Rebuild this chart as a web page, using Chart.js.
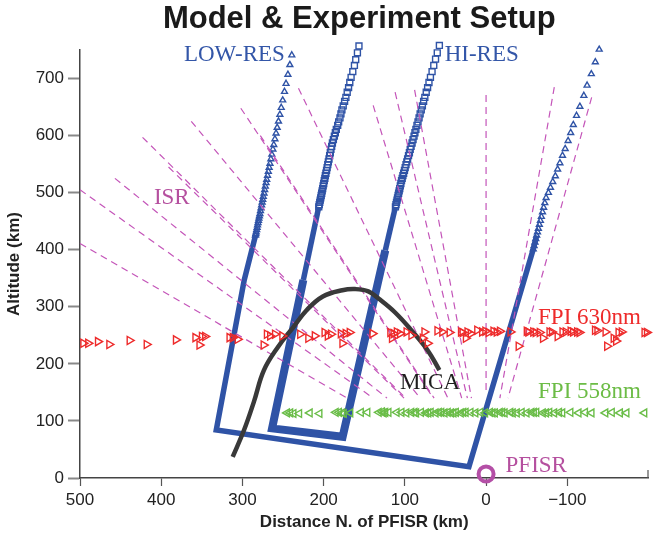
<!DOCTYPE html>
<html>
<head>
<meta charset="utf-8">
<script src="https://cdn.jsdelivr.net/npm/chart.js@4.4.1/dist/chart.umd.min.js"></script>
<style>
  html, body { margin: 0; padding: 0; background: #fff; }
</style>
</head>
<body>
<canvas id="myChart" width="660" height="540"></canvas>
<script>
// axis ticks
const xTicks = [500, 400, 300, 200, 100, 0, -100];
const yTicks = [0, 100, 200, 300, 400, 500, 600, 700];

// LOW-RES grid (triangles): outline of the dense part, then sparse markers
const lowEdgeX = [283.9, 297.8, 332.2, 21.1, -57.7, -62.3];
const lowEdgeAlt = [425, 347, 84, 19.8, 399, 425];
const lowLeftX = [236.5, 239.2, 241.6, 244.0, 246.3, 248.2, 250.4, 252.2, 253.9, 255.6,
  257.2, 258.6, 260.0, 261.4, 262.5, 263.8, 265.0, 266.1, 267.1, 268.1,
  269.1, 270.1, 270.9, 271.8, 272.6, 273.4, 274.3, 275.0, 275.7, 276.4,
  277.1, 277.8, 278.5, 279.1, 279.7, 280.2, 280.8, 281.4, 281.9, 282.5,
  283.1, 283.5, 283.9];
const lowLeftAlt = [760, 741, 724, 707, 691, 677, 662, 649, 637, 625,
  614, 604, 594, 584, 576, 567, 559, 551, 544, 537,
  530, 523, 517, 511, 505, 499, 493, 488, 483, 478,
  473, 468, 463, 459, 455, 451, 447, 443, 439, 435,
  431, 428, 425];
const lowRightX = [-139.3, -134.5, -129.6, -124.4, -120.4, -115.5, -111.4, -107.4, -104.2, -101.0,
  -97.4, -94.1, -90.9, -88.1, -85.3, -82.1, -79.3, -76.8, -73.9, -72.3,
  -70.9, -69.5, -68.1, -66.9, -65.6, -64.4, -63.3, -62.3, -61.2, -60.2,
  -59.1, -58.1];
const lowRightAlt = [751, 729, 708, 688, 670, 651, 635, 619, 605, 591,
  577, 565, 552, 541, 529, 519, 509, 500, 491, 482,
  474, 466, 458, 451, 444, 437, 431, 425, 419, 413,
  407, 401];

// HI-RES grid (squares)
const hiEdgeX = [225, 263.5, 176.6, 124.1];
const hiEdgeAlt = [347, 87, 72.3, 399];
const hiUpLeftX = [206, 225];
const hiUpLeftAlt = [475, 347];
const hiUpRightX = [124.1, 111.6];
const hiUpRightAlt = [399, 475];
const hiLeftX = [156.5, 158.4, 160.5, 162.1, 164.1, 166.2, 167.8, 169.3, 171.0, 172.6,
  174.2, 175.9, 177.5, 178.7, 179.9, 181.5, 182.7, 184.4, 185.6, 186.8,
  188.0, 189.2, 190.1, 191.0, 191.8, 192.6, 193.4, 194.2, 194.9, 195.7,
  196.4, 197.2, 197.9, 198.5, 199.2, 199.9, 200.6, 201.2, 201.8, 202.4,
  203.0, 203.6, 204.2, 204.8, 205.4, 206.0];
const hiLeftAlt = [757, 745, 733, 723, 712, 702, 693, 684, 676, 667,
  660, 652, 645, 638, 631, 624, 618, 611, 605, 599,
  593, 587, 581, 576, 570, 565, 559, 554, 549, 544,
  539, 534, 530, 525, 521, 516, 512, 507, 503, 499,
  495, 491, 487, 483, 479, 475];
const hiRightX = [57.5, 60.1, 62.2, 64.4, 66.5, 68.5, 70.3, 72.0, 73.7, 75.4,
  76.9, 78.4, 79.8, 81.2, 82.5, 83.8, 85.1, 86.4, 87.6, 88.7,
  89.9, 91.1, 92.3, 93.4, 94.4, 95.5, 96.6, 97.6, 98.6, 99.6,
  100.5, 101.5, 102.4, 103.3, 104.1, 104.9, 105.6, 106.3, 107.0, 107.7,
  108.3, 109.0, 109.6, 110.3, 110.9, 111.6];
const hiRightAlt = [758, 745, 734, 723, 712, 702, 693, 684, 676, 667,
  660, 652, 645, 638, 631, 624, 618, 611, 605, 599,
  593, 587, 581, 576, 570, 565, 559, 554, 549, 544,
  539, 534, 530, 525, 521, 516, 512, 507, 503, 499,
  495, 491, 487, 483, 479, 475];

// ISR beams (upper and lower ends)
const isrTopX = [500, 500, 457, 423, 391, 363, 302, 278, 231, 139, 112, 88, 0, -84, -130];
const isrTopAlt = [505, 411, 525, 597, 545, 625, 648, 600, 683, 653, 676, 680, 671, 685, 667];
const isrBotX = [139, 171, 122, 99, 101, 81, 65, 64, 47, 30, 23, 18, 0, -17, -27];
const isrBotAlt = [140, 140, 140, 140, 140, 140, 140, 140, 140, 140, 140, 140, 150, 140, 140];

// MICA rocket trajectory
const micaX = [312, 298, 286, 273.5, 256, 237, 221, 201, 177, 161, 145, 132, 112, 92, 72, 57.5];
const micaAlt = [37, 84, 133, 189, 230, 265, 294, 318, 329, 331, 327, 314, 290, 259, 224, 189];

// FPI 630nm look points
const fpi630X = [496, 490, 478, 464, 439, 418, 382, 358, 353, 350,
  346, 316, 312, 306, 274, 270, 266, 260, 251, 229,
  219, 211, 199, 195, 191, 179, 177, 173, 168, 140,
  118, 116, 114, 110, 106, 98, 92, 78, 76, 72,
  60, 54, 45, 31, 29, 25, 23, 19, 11, 5,
  1, -3, -9, -13, -17, -30, -40, -50, -58, -66,
  -70, -78, -88, -94, -104, -112, -134, -147, -149, -157,
  -163, -167, -195, -198, -52, -61, -81, -98, -107, -137,
  -160, -115];
const fpi630Alt = [236, 236, 239, 234, 241, 234, 242, 246, 233, 248,
  248, 246, 246, 243, 233, 252, 249, 252, 249, 252,
  245, 249, 255, 249, 252, 253, 236, 253, 255, 253,
  255, 245, 253, 256, 253, 256, 250, 245, 256, 236,
  258, 256, 255, 256, 255, 245, 256, 253, 259, 256,
  257, 255, 257, 256, 257, 256, 231, 257, 256, 255,
  245, 256, 248, 256, 257, 256, 259, 256, 231, 245,
  255, 256, 255, 255, 256, 255, 256, 256, 256, 258,
  240, 255];

// FPI 558nm look points
const fpi558X = [245, 241, 237, 230, 217, 205, 185, 181, 177, 175,
  167, 154, 146, 132, 128, 124, 120, 110, 104, 98,
  92, 86, 80, 74, 68, 62, 55, 51, 47, 43,
  37, 31, 25, 19, 13, 7, 1, -5, -11, -17,
  -23, -30, -38, -44, -50, -56, -62, -70, -78, -84,
  -94, -104, -114, -122, -130, -147, -155, -165, -173, -195,
  126, 88, 71, 58, 40, 28, -8, -20, -33, -59, -74, -90];
const fpi558Alt = [114, 114, 113, 113, 114, 113, 115, 115, 114, 113,
  114, 115, 115, 115, 116, 115, 115, 115, 115, 114,
  115, 114, 115, 114, 115, 114, 115, 114, 115, 114,
  115, 114, 115, 115, 114, 115, 114, 115, 114, 115,
  114, 115, 114, 115, 114, 115, 115, 114, 115, 114,
  114, 115, 114, 115, 114, 114, 115, 114, 114, 114,
  114, 115, 114, 115, 114, 115, 114, 115, 114, 115, 114, 115];

// PFISR site
const pfisrX = [0];
const pfisrAlt = [7];

const blue = '#2f53a6';
const sans = '"Liberation Sans", Arial, sans-serif';
const serif = '"Liberation Serif", "Times New Roman", serif';

function pts(xs, ys) {
  return xs.map((x, i) => ({ x: x, y: ys[i] }));
}

function lineSet(xs, ys, color, width, order) {
  return {
    data: pts(xs, ys), showLine: true, borderColor: color, borderWidth: width,
    pointRadius: 0, tension: 0, borderJoinStyle: 'miter', clip: false, order: order
  };
}

function markerSet(xs, ys, color, style, radius, rotation, order) {
  return {
    data: pts(xs, ys), showLine: false, pointStyle: style, pointRadius: radius,
    pointRotation: rotation, borderColor: color, pointBorderWidth: 1.4,
    backgroundColor: 'rgba(255,255,255,0)', clip: false, order: order
  };
}

const datasets = [];
datasets.push(lineSet(lowEdgeX, lowEdgeAlt, blue, 5.5, 6));
datasets.push(markerSet(lowLeftX, lowLeftAlt, blue, 'triangle', 3.4, 0, 6));
datasets.push(markerSet(lowRightX, lowRightAlt, blue, 'triangle', 3.4, 0, 6));
datasets.push(lineSet(hiEdgeX, hiEdgeAlt, blue, 8, 5));
datasets.push(lineSet(hiUpLeftX, hiUpLeftAlt, blue, 5.5, 5));
datasets.push(lineSet(hiUpRightX, hiUpRightAlt, blue, 5.5, 5));
datasets.push(markerSet(hiLeftX, hiLeftAlt, blue, 'rect', 4.2, 0, 5));
datasets.push(markerSet(hiRightX, hiRightAlt, blue, 'rect', 4.2, 0, 5));

for (let i = 0; i < isrTopX.length; i++) {
  const beam = lineSet([isrTopX[i], isrBotX[i]], [isrTopAlt[i], isrBotAlt[i]], '#c455b9', 1.2, 3);
  beam.borderDash = [7, 5];
  datasets.push(beam);
}

const mica = lineSet(micaX, micaAlt, '#393939', 4.5, 2);
mica.tension = 0.4;
mica.borderCapStyle = 'butt';
datasets.push(mica);

datasets.push(markerSet(fpi630X, fpi630Alt, '#ee2b2b', 'triangle', 4.7, 90, 1));
datasets.push(markerSet(fpi558X, fpi558Alt, '#6abd48', 'triangle', 4.5, -90, 1));

const pfisr = markerSet(pfisrX, pfisrAlt, '#b44fa6', 'circle', 7.5, 0, 0);
pfisr.pointBorderWidth = 4;
datasets.push(pfisr);

// text labels placed in data units
const notes = [
  { text: 'LOW-RES', x: 372, y: 741, color: '#3356a8' },
  { text: 'HI-RES', x: 51, y: 741, color: '#3356a8' },
  { text: 'ISR', x: 409, y: 490, color: '#b5509f' },
  { text: 'FPI 630nm', x: -64, y: 280, color: '#ee2b2b' },
  { text: 'MICA', x: 106, y: 166, color: '#1e1e1e' },
  { text: 'FPI 558nm', x: -64, y: 151, color: '#6cbc46' },
  { text: 'PFISR', x: -24, y: 21, color: '#b5509f' }
];

const textPlugin = {
  id: 'textPlugin',
  afterDatasetsDraw(chart) {
    const ctx = chart.ctx;
    const xs = chart.scales.x;
    const ys = chart.scales.y;
    const area = chart.chartArea;
    ctx.save();
    // right end tick of the x axis
    ctx.strokeStyle = '#555';
    ctx.lineWidth = 1.2;
    ctx.beginPath();
    ctx.moveTo(area.right - 0.5, area.bottom);
    ctx.lineTo(area.right - 0.5, area.bottom - 8);
    ctx.stroke();
    // title
    ctx.fillStyle = '#1a1a1a';
    ctx.font = 'bold 31px ' + sans;
    ctx.textAlign = 'center';
    ctx.textBaseline = 'middle';
    ctx.fillText('Model & Experiment Setup', (area.left + area.right) / 2 - 5, 19);
    // annotations
    ctx.textAlign = 'left';
    ctx.font = '23px ' + serif;
    notes.forEach(n => {
      ctx.fillStyle = n.color;
      ctx.fillText(n.text, xs.getPixelForValue(n.x), ys.getPixelForValue(n.y));
    });
    ctx.restore();
  }
};

const ctx = document.getElementById('myChart').getContext('2d');
const myChart = new Chart(ctx, {
  type: 'scatter',
  data: { datasets: datasets },
  plugins: [textPlugin],
  options: {
    responsive: false,
    devicePixelRatio: 1,
    animation: false,
    events: [],
    layout: { padding: { top: 50, right: 3, left: 0, bottom: 0 } },
    plugins: {
      legend: { display: false },
      tooltip: { enabled: false },
      title: { display: false }
    },
    scales: {
      x: {
        type: 'linear',
        reverse: true,
        min: -200,
        max: 500,
        afterBuildTicks: s => { s.ticks = xTicks.map(v => ({ value: v })); },
        afterFit: s => { s.height = 62; },
        ticks: {
          autoSkip: false,
          maxRotation: 0,
          padding: 4,
          color: '#222',
          font: { family: sans, size: 17 },
          callback: v => (v < 0 ? '\u2212' + Math.abs(v) : String(v))
        },
        grid: { drawOnChartArea: false, drawTicks: true, tickLength: 8, tickColor: '#555', tickWidth: 1.2 },
        border: { display: true, color: '#444', width: 1.5 },
        title: {
          display: true,
          text: 'Distance N. of PFISR (km)',
          color: '#222',
          font: { family: sans, size: 17, weight: 'bold' },
          padding: { top: 0, bottom: 7 }
        }
      },
      y: {
        type: 'linear',
        min: 0,
        max: 750,
        afterBuildTicks: s => { s.ticks = yTicks.map(v => ({ value: v })); },
        afterFit: s => { s.width = 80; },
        ticks: {
          padding: 4,
          color: '#222',
          font: { family: sans, size: 17 }
        },
        grid: { drawOnChartArea: false, drawTicks: true, tickLength: 12, tickColor: '#888', tickWidth: 2 },
        border: { display: true, color: '#444', width: 1.5 },
        title: {
          display: true,
          text: 'Altitude (km)',
          color: '#222',
          font: { family: sans, size: 17, weight: 'bold' },
          padding: { top: 4, bottom: 0 }
        }
      }
    }
  }
});
</script>
</body>
</html>
